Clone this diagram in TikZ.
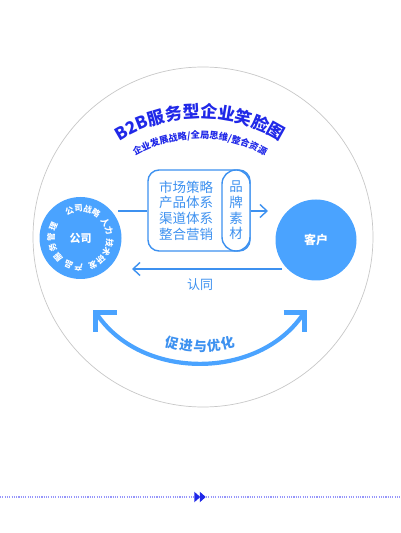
\documentclass[tikz,border=0pt]{standalone}
\usepackage{fontspec}
\setmainfont{Noto Sans CJK SC}
\usetikzlibrary{arrows.meta,decorations.text}
\definecolor{mblue}{RGB}{74,163,255}
\definecolor{lblue}{RGB}{61,145,240}
\definecolor{dblue}{RGB}{32,40,232}
\definecolor{dotc}{RGB}{150,150,250}
\definecolor{ringgray}{RGB}{200,200,200}
\tikzset{
  bluecircle/.style={circle, fill=mblue, inner sep=0pt, text=white},
  lineconn/.style={lblue, line width=1.4pt},
  barbtip/.style={-{Straight Barb[length=7pt,width=13pt,line width=1.4pt]}},
  boxtext/.style={text=lblue, align=center, font=\fontsize{13.5}{15.7}\selectfont},
  ringchar/.style={text=white, inner sep=0pt, font=\bfseries\fontsize{8.3}{8.3}\selectfont},
  smilechar/.style={text=lblue, inner sep=0pt, font=\bfseries\fontsize{13.5}{13.5}\selectfont},
}
\begin{document}
\begin{tikzpicture}[x=1pt,y=1pt]
\useasboundingbox (0,0) rectangle (400,533);
\fill[white] (0,0) rectangle (400,533);

% background circle
\node[circle, draw=ringgray, line width=0.7pt, fill=white, minimum size=340pt, inner sep=0pt] (bg) at (203,296) {};

% title
\path[decorate, decoration={text along path, text align=center, text color=dblue,
  text={|\bfseries\fontsize{17}{17}\selectfont|B2B服务型企业笑脸图}}]
  (200,265) ++(165:150) arc[start angle=165, end angle=15, radius=150];
\path[decorate, decoration={text along path, text align=center, text color=dblue,
  text={|\bfseries\fontsize{9.2}{9.2}\selectfont|企业发展战略/全局思维/整合资源}}]
  (200,265) ++(165:129.5) arc[start angle=165, end angle=15, radius=129.5];

% company & customer
\node[bluecircle, minimum size=82pt, font=\bfseries\fontsize{11}{11}\selectfont] (gs) at (80.5,295) {公司};
\node[bluecircle, minimum size=81pt, font=\bfseries\fontsize{12}{12}\selectfont] (kh) at (316,293) {客户};

\foreach \c/\a [count=\i] in {公/112,司/94,战/76,略/58,人/33,力/15,技/-10,术/-28,研/-47,发/-65,产/-94,品/-114,服/-139,务/-160,管/178,理/157}
  \node[ringchar, rotate=\a-90] (ring\i) at ([shift={(\a:29.5)}]gs.center) {\c};

% box
\node[draw=lblue, line width=1.4pt, rounded corners=11pt, minimum width=102pt, minimum height=81pt, inner sep=0pt] (box) at (199,322.5) {};
\node[draw=lblue, line width=1.4pt, rounded corners=14pt, minimum width=28pt, minimum height=81pt, inner sep=0pt, fill=white] (pill) at (236,322.5) {};
\node[boxtext] (bt) at (186,322.5) {市场策略\\产品体系\\渠道体系\\整合营销};
\node[boxtext] (pt) at (236,322.5) {品\\牌\\素\\材};

% connectors
\coordinate (c1) at (118,322);
\coordinate (c2) at (268,322);
\draw[lineconn] (c1) -- (c1 -| box.west);
\draw[lineconn, barbtip] (c2 -| box.east) -- (c2);

\coordinate (c4) at (282,264);
\coordinate (c3) at (132,264);
\draw[lineconn, barbtip] (c4) -- (c3);
\node[text=lblue, font=\fontsize{13}{13}\selectfont] (rt) at (200,248) {认同};

% smile arc
\coordinate (la) at (95.8,220.5);
\coordinate (ra) at (304.2,220.5);
\draw[mblue, line width=4.2pt] (la) .. controls (140,152) and (260,152) .. (ra);
\draw[mblue, line width=5pt, line join=miter] (116.5,220.5) -- (la) -- (95.8,201);
\draw[mblue, line width=5pt, line join=miter] (283.5,220.5) -- (ra) -- (304.2,201);

\foreach \c [count=\i] in {促,进,与,优,化} {
  \pgfmathsetmacro\d{(\i-3)*6.6}
  \node[smilechar, rotate=\d] (sm\i) at ({200+120*sin(\d)},{307-120*cos(\d)}) {\c};
}

% bottom dotted line
\coordinate (dl) at (0,36);
\coordinate (dr) at (400,36);
\draw[dotc, line width=1.3pt, dash pattern=on 1.1pt off 1.2pt] (dl) -- (194,36);
\draw[dotc, line width=1.3pt, dash pattern=on 1.1pt off 1.2pt] (206,36) -- (dr);
\fill[dblue] (194.3,41.3) -- (200.2,36) -- (194.3,30.7) -- cycle;
\fill[dblue] (199.8,41.3) -- (205.7,36) -- (199.8,30.7) -- cycle;
\end{tikzpicture}
\end{document}
